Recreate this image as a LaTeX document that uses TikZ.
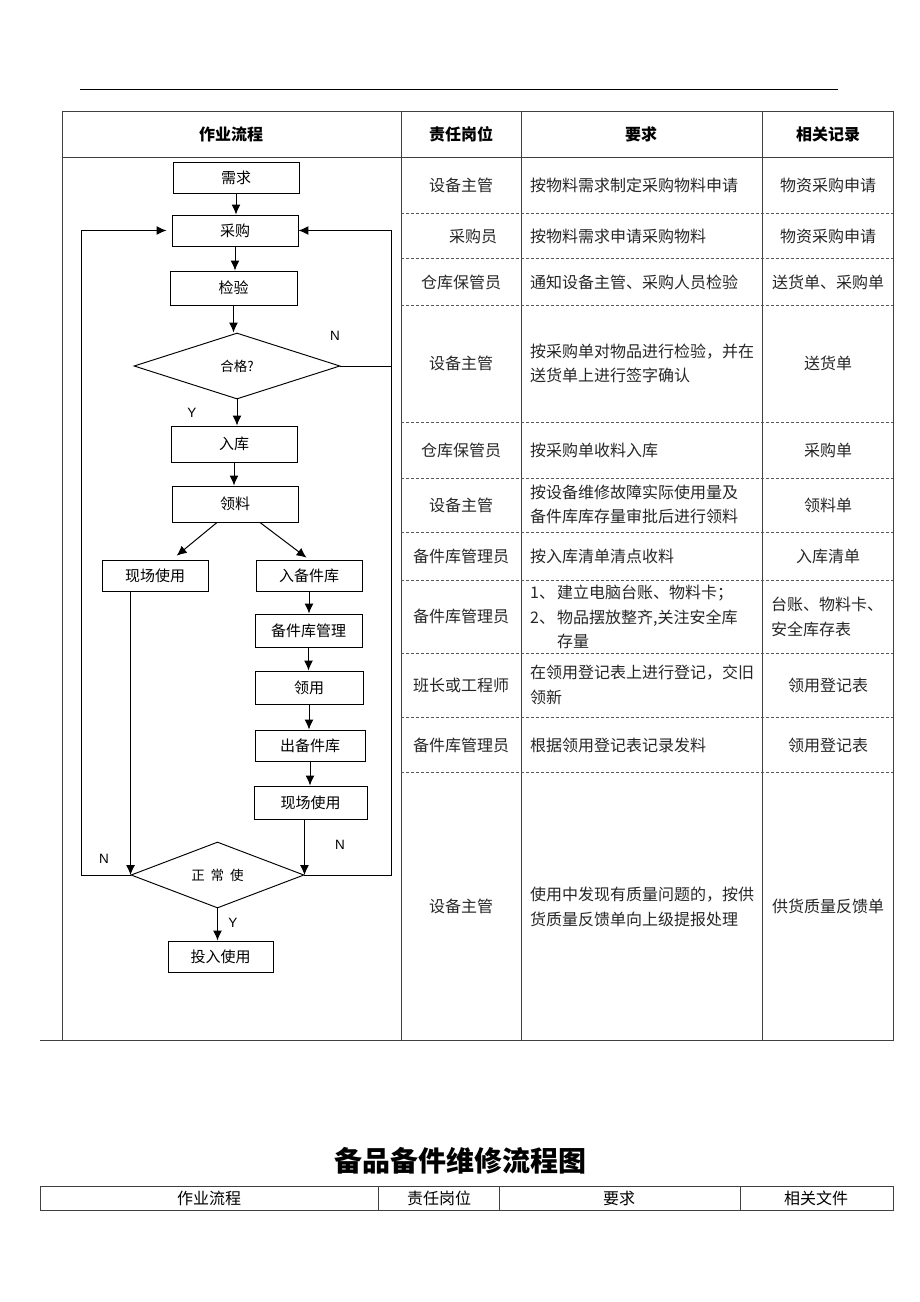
\documentclass[tikz,border=0pt]{standalone}
\usepackage{fontspec}
\setmainfont{Noto Sans CJK SC}
\setsansfont{Liberation Sans}
\usetikzlibrary{
    arrows.meta,
    shapes.geometric,
    calc
}
\tikzset {
    box/.style = {draw, line width = 0.95pt, inner sep = 0pt, font = \fontsize{15}{18}\selectfont},
    decision/.style = {diamond, draw, line width = 0.95pt, inner sep = 0pt, font = \fontsize{13.5}{16}\selectfont},
    flow/.style = {line width = 1pt, arrows = {-Latex[length = 10pt, width = 9pt]}},
    link/.style = {line width = 1pt},
    yn/.style = {font = \sffamily\fontsize{13.5}{15}\selectfont},
    tableline/.style = {line width = 0.9pt, draw = black!75},
    rowsep/.style = {line width = 0.8pt, draw = black!65, dash pattern = on 3pt off 2pt},
    head/.style = {font = \bfseries\fontsize{16}{19}\selectfont},
    cell/.style = {font = \fontsize{16}{24.5}\selectfont, text = black!85, inner sep = 0pt},
    req/.style = {cell, anchor = west, align = left},
}

\begin{document}
\begin{tikzpicture}[x = 1pt, y = -1pt]
    \useasboundingbox (0, 0) rectangle (920, 1302);
    \draw [line width = 0.9pt] (80, 89) -- (838, 89);

    % table
    \draw [tableline] (62, 111) rectangle (893, 1040);
    \draw [tableline] (40, 1040) -- (62, 1040);
    \draw [tableline] (62, 157) -- (893, 157);
    \foreach \x in {401, 521, 762}
        \draw [tableline] (\x, 111) -- (\x, 1040);
    \foreach \y in {213, 258, 305, 422, 478, 532, 580, 653, 717, 772}
        \draw [rowsep] (401, \y) -- (893, \y);

    \node (h1) [head] at (231, 134) {作业流程};
    \node (h2) [head] at (461, 134) {责任岗位};
    \node (h3) [head] at (641, 134) {要求};
    \node (h4) [head] at (828, 134) {相关记录};

    \node (p1)  [cell] at (461, 185) {设备主管};
    \node (p2)  [cell] at (473, 236) {采购员};
    \node (p3)  [cell] at (461, 282) {仓库保管员};
    \node (p4)  [cell] at (461, 363) {设备主管};
    \node (p5)  [cell] at (461, 450) {仓库保管员};
    \node (p6)  [cell] at (461, 505) {设备主管};
    \node (p7)  [cell] at (461, 556) {备件库管理员};
    \node (p8)  [cell] at (461, 616) {备件库管理员};
    \node (p9)  [cell] at (461, 685) {班长或工程师};
    \node (p10) [cell] at (461, 745) {备件库管理员};
    \node (p11) [cell] at (461, 906) {设备主管};

    \node (r1)  [req] at (530, 185) {按物料需求制定采购物料申请};
    \node (r2)  [req] at (530, 236) {按物料需求申请采购物料};
    \node (r3)  [req] at (530, 282) {通知设备主管、采购人员检验};
    \node (r4)  [req] at (530, 363.5) {按采购单对物品进行检验，并在\\送货单上进行签字确认};
    \node (r5)  [req] at (530, 450) {按采购单收料入库};
    \node (r6)  [req] at (530, 504.5) {按设备维修故障实际使用量及\\备件库库存量审批后进行领料};
    \node (r7)  [req] at (530, 556) {按入库清单清点收料};
    \node (r8)  [req] at (530, 617) {\makebox[27pt][l]{1、}建立电脑台账、物料卡；\\
        \makebox[27pt][l]{2、}物品摆放整齐,关注安全库\\\hspace*{27pt}存量};
    \node (r9)  [req] at (530, 685) {在领用登记表上进行登记，交旧\\领新};
    \node (r10) [req] at (530, 745) {根据领用登记表记录发料};
    \node (r11) [req] at (530, 907) {使用中发现有质量问题的，按供\\货质量反馈单向上级提报处理};

    \node (c1)  [cell] at (828, 185) {物资采购申请};
    \node (c2)  [cell] at (828, 236) {物资采购申请};
    \node (c3)  [cell] at (828, 282) {送货单、采购单};
    \node (c4)  [cell] at (828, 363) {送货单};
    \node (c5)  [cell] at (828, 450) {采购单};
    \node (c6)  [cell] at (828, 505) {领料单};
    \node (c7)  [cell] at (828, 556) {入库清单};
    \node (c8)  [cell, anchor = west, align = left] at (771, 617) {台账、物料卡、\\安全库存表};
    \node (c9)  [cell] at (828, 685) {领用登记表};
    \node (c10) [cell] at (828, 745) {领用登记表};
    \node (c11) [cell] at (828, 906) {供货质量反馈单};

    % flow
    \node (need)    [box, minimum width = 126pt, minimum height = 31pt] at (236, 177.5) {需求};
    \node (buy)     [box, minimum width = 126pt, minimum height = 31pt] at (235, 230.5) {采购};
    \node (inspect) [box, minimum width = 127pt, minimum height = 34pt] at (233.5, 288) {检验};
    \node (pass)    [decision, minimum width = 206pt, minimum height = 66pt] at (237, 366) {合格?};
    \node (instore) [box, minimum width = 126pt, minimum height = 36pt] at (234, 444) {入库};
    \node (pick)    [box, minimum width = 126pt, minimum height = 36pt] at (235, 504) {领料};
    \node (siteA)   [box, minimum width = 106pt, minimum height = 31pt] at (155, 575.5) {现场使用};
    \node (spare)   [box, minimum width = 106pt, minimum height = 31pt] at (309, 575.5) {入备件库};
    \node (manage)  [box, minimum width = 107pt, minimum height = 33pt] at (308.5, 630.5) {备件库管理};
    \node (issue)   [box, minimum width = 108pt, minimum height = 33pt] at (309, 687.5) {领用};
    \node (release) [box, minimum width = 110pt, minimum height = 31pt] at (310, 745.5) {出备件库};
    \node (siteB)   [box, minimum width = 113pt, minimum height = 33pt] at (310.5, 802.5) {现场使用};
    \node (normal)  [decision, minimum width = 173pt, minimum height = 66pt] at (217.5, 875) {正\hspace{6pt}常\hspace{6pt}使};
    \node (use)     [box, minimum width = 105pt, minimum height = 31pt] at (220.5, 956.5) {投入使用};
    \coordinate (lx) at (81, 0);
    \coordinate (rx) at (391, 0);

    \draw [flow] (need.south) -- (need.south |- buy.north);
    \draw [flow] (buy.south) -- (buy.south |- inspect.north);
    \draw [flow] (inspect.south) -- (inspect.south |- pass.north);
    \draw [flow] (pass.south) -- (pass.south |- instore.north);
    \draw [flow] (instore.south) -- (instore.south |- pick.north);
    \draw [flow, shorten > = 6pt] ([xshift = -18pt]pick.south) -- ([xshift = 17pt]siteA.north);
    \draw [flow, shorten > = 3pt] ([xshift = 25pt]pick.south) -- (spare.north);
    \draw [flow] (spare.south) -- (spare.south |- manage.north);
    \draw [flow] (manage.south) -- (manage.south |- issue.north);
    \draw [flow] (issue.south) -- (issue.south |- release.north);
    \draw [flow] (release.south) -- (release.south |- siteB.north);
    \draw [flow] (siteA.south -| normal.west) -- (normal.west);
    \draw [flow] (siteB.south -| normal.east) -- (normal.east);
    \draw [flow] (normal.south) -- (normal.south |- use.north);
    \draw [flow] (pass.east) -- (pass.east -| rx) |- (buy.east);
    \draw [link] (normal.east) -- (normal.east -| rx) -- (pass.east -| rx);
    \draw [flow, shorten > = 5pt] (normal.west) -- (normal.west -| lx) |- (buy.west);

    \node (n1) [yn] at (335, 336) {N};
    \node (y1) [yn] at (192, 413) {Y};
    \node (n2) [yn] at (104, 859) {N};
    \node (n3) [yn] at (340, 845) {N};
    \node (y2) [yn] at (233, 923) {Y};

    % next page head
    \node (title) [font = \bfseries\fontsize{28}{32}\selectfont] at (460, 1161) {备品备件维修流程图};
    \draw [tableline] (40, 1186) rectangle (893, 1210);
    \foreach \x in {378, 499, 740}
        \draw [tableline] (\x, 1186) -- (\x, 1210);
    \node (g1) [font = \fontsize{16}{19}\selectfont] at (209, 1198) {作业流程};
    \node (g2) [font = \fontsize{16}{19}\selectfont] at (439, 1198) {责任岗位};
    \node (g3) [font = \fontsize{16}{19}\selectfont] at (619, 1198) {要求};
    \node (g4) [font = \fontsize{16}{19}\selectfont] at (816, 1198) {相关文件};
\end{tikzpicture}
\end{document}
